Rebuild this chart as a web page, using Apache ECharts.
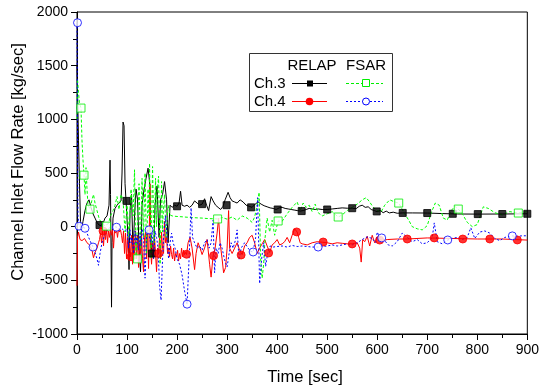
<!DOCTYPE html>
<html><head><meta charset="utf-8">
<script src="https://cdn.jsdelivr.net/npm/echarts@6/dist/echarts.min.js"></script>
<style>html,body{margin:0;padding:0;background:#fff}#c{width:542px;height:388px}</style>
</head><body><div id="c"></div>
<script>
var xTicks = [0,100,200,300,400,500,600,700,800,900];
var yTicks = [-1000,-500,0,500,1000,1500,2000];

var ch3Relap = [[0,1500],[1,1250],[2,1050],[3,800],[5,400],[7,50],[9,-30],[12,50],[16,150],[20,220],[24,250],[28,180],[32,120],[36,80],[40,40],[44,15],[48,10],[52,30],[56,80],[60,100],[64,200],[66,620],[67,300],[68,-200],[69,-750],[70,-150],[72,80],[76,170],[80,200],[84,220],[88,240],[90,500],[92,975],[94,940],[96,400],[98,240],[100,230],[102,-100],[104,-400],[106,150],[109,300],[112,-250],[115,100],[118,350],[121,250],[124,-200],[127,-420],[130,200],[134,350],[138,450],[142,545],[145,420],[148,-150],[150,-250],[153,-300],[156,200],[160,380],[164,-100],[167,250],[171,300],[175,420],[179,250],[182,-150],[186,200],[190,180],[195,200],[200,190],[204,220],[207,330],[210,200],[215,190],[220,200],[225,180],[230,200],[235,240],[240,220],[245,200],[250,210],[255,260],[259,200],[263,150],[268,280],[272,240],[277,200],[282,180],[287,160],[292,190],[296,250],[302,320],[306,270],[310,240],[315,230],[320,220],[326,250],[332,230],[338,200],[344,190],[350,180],[356,210],[362,230],[368,210],[374,195],[380,185],[386,175],[392,170],[398,160],[404,175],[410,180],[416,170],[422,165],[428,160],[434,155],[440,150],[446,145],[452,150],[458,160],[464,170],[470,165],[476,160],[482,165],[490,160],[500,160],[510,165],[520,170],[530,175],[540,172],[550,172],[558,168],[564,190],[570,200],[576,180],[582,185],[588,160],[594,150],[600,140],[606,150],[612,130],[618,145],[624,128],[632,135],[640,125],[650,128],[670,128],[700,127],[730,122],[760,118],[800,117],[850,118],[900,120]];
var ch3RelapMarks = [[45,15],[99,240],[150,-250],[200,190],[250,210],[299,200],[348,180],[401,160],[449,145],[500,160],[550,172],[599,142],[651,128],[700,127],[751,120],[801,117],[850,118],[900,120]];

var ch3Fsar = [[0,1000],[1,1370],[3,1250],[5,1150],[8,1105],[10,800],[12,620],[14,480],[16,300],[18,550],[20,350],[22,200],[26,163],[30,250],[33,300],[36,220],[40,150],[44,80],[48,40],[52,20],[56,10],[59,5],[63,30],[67,100],[72,150],[76,200],[80,280],[84,160],[88,300],[92,250],[96,-50],[100,200],[104,-100],[108,350],[112,100],[115,530],[117,-100],[118,-300],[121,-300],[124,400],[126,0],[127,-200],[130,450],[132,100],[133,-100],[136,500],[138,0],[139,-250],[142,350],[144,100],[145,590],[147,0],[148,-300],[151,560],[153,100],[154,-150],[157,450],[159,0],[160,300],[163,470],[165,0],[166,-350],[169,420],[171,-50],[172,100],[175,300],[178,-100],[182,200],[186,110],[190,100],[200,95],[210,92],[220,88],[230,85],[240,82],[250,80],[260,76],[270,74],[281,72],[290,85],[300,70],[310,90],[320,60],[330,100],[340,80],[350,40],[355,90],[360,200],[364,320],[367,-300],[370,-480],[373,-350],[376,-100],[380,80],[385,-50],[390,60],[395,-80],[402,53],[410,50],[420,120],[430,180],[440,230],[446,150],[452,220],[458,180],[464,200],[470,140],[476,210],[482,130],[490,100],[500,120],[510,140],[522,90],[530,110],[540,150],[550,180],[560,210],[570,250],[578,270],[585,230],[592,180],[600,150],[608,140],[615,200],[625,250],[635,230],[643,220],[655,120],[663,60],[670,0],[680,-20],[690,-30],[700,10],[708,130],[716,220],[724,200],[732,80],[740,62],[748,150],[755,190],[762,164],[770,120],[780,40],[790,0],[800,20],[812,185],[822,170],[835,130],[850,110],[865,140],[882,127],[900,140]];
var ch3FsarMarks = [[8,1105],[14,480],[26,163],[59,5],[121,-300],[281,72],[402,53],[522,90],[643,220],[762,164],[882,127]];

var ch4Relap = [[0,-550],[1,-100],[3,-50],[6,-120],[10,-130],[15,-110],[20,-150],[25,-170],[30,-220],[33,-290],[36,-240],[40,-200],[43,-150],[45,-120],[47,-60],[49,-150],[51,-40],[53,-180],[55,-30],[57,-120],[59,-20],[61,-150],[63,-40],[65,-100],[67,-20],[69,-80],[71,-30],[73,-200],[75,-40],[77,-60],[79,-30],[81,-100],[83,-20],[85,-50],[87,-30],[89,-80],[91,-150],[93,-40],[95,-250],[97,-60],[99,-300],[101,-100],[103,-300],[105,-150],[107,-280],[109,-80],[111,-350],[113,-100],[115,-250],[117,-40],[119,-300],[121,-80],[123,-380],[125,-150],[127,-250],[129,-60],[131,-300],[133,-420],[135,-100],[137,-50],[139,-300],[141,-30],[143,-390],[145,100],[146,400],[147,-200],[149,-350],[151,-150],[153,-300],[155,-100],[157,-250],[159,-420],[161,-200],[163,-250],[165,-100],[167,-300],[169,-50],[171,-200],[173,-250],[175,50],[177,-150],[179,-100],[181,-250],[183,-200],[185,-280],[187,-180],[189,-260],[191,-300],[193,-200],[195,-320],[197,-250],[199,-280],[201,-220],[203,-320],[205,-250],[207,-300],[209,-200],[211,-280],[213,-220],[215,-260],[217,-240],[219,-260],[222,-150],[226,-100],[230,-200],[235,-400],[238,-250],[242,-150],[246,-200],[250,-260],[255,-200],[260,-120],[265,-350],[268,-470],[272,-270],[276,-200],[280,-60],[283,80],[286,-150],[290,-300],[293,-430],[297,-380],[300,-200],[303,150],[305,-200],[310,-250],[315,-200],[320,-150],[325,-220],[330,-260],[335,-180],[340,-150],[345,-100],[350,-80],[355,-150],[360,-250],[365,-200],[370,-160],[375,-120],[380,-180],[385,-240],[390,-170],[395,-150],[400,-120],[405,-170],[410,-160],[415,-140],[420,-100],[425,-150],[430,-80],[435,-20],[440,-50],[443,-100],[446,-150],[450,-160],[460,-170],[470,-150],[480,-140],[490,-145],[500,-150],[510,-160],[520,-150],[530,-155],[540,-160],[550,-160],[560,-150],[565,-200],[568,-330],[571,-120],[575,-140],[580,-90],[585,-180],[590,-80],[595,-150],[600,-100],[610,-130],[620,-120],[640,-115],[660,-115],[700,-105],[750,-110],[800,-115],[850,-115],[900,-125]];
var ch4RelapMarks = [[52,-40],[108,-280],[163,-250],[219,-257],[273,-270],[328,-264],[383,-245],[439,-49],[492,-143],[550,-161],[605,-125],[660,-115],[714,-105],[771,-115],[825,-115],[880,-124]];

var ch4Fsar = [[0,1900],[1,800],[2,100],[4,5],[6,5],[10,0],[16,-15],[20,-60],[25,-120],[30,-170],[32,-190],[36,-240],[40,-300],[43,-360],[46,-250],[50,-150],[55,-80],[60,-40],[65,-10],[70,-20],[75,0],[79,-5],[85,-30],[90,-20],[95,-40],[100,-20],[103,-200],[106,-30],[108,-150],[110,-100],[113,-250],[116,-40],[118,-150],[120,-80],[123,-220],[126,-60],[128,-180],[130,-20],[133,-100],[136,-480],[139,-80],[142,-30],[144,-30],[147,-150],[150,-60],[153,-300],[156,-40],[159,-100],[162,-200],[165,-550],[168,-685],[171,-300],[174,-20],[177,100],[180,-100],[183,-300],[186,-150],[189,-60],[192,-150],[196,-200],[200,-300],[205,-350],[210,-450],[215,-600],[220,-722],[224,-300],[228,175],[231,-100],[235,-150],[240,-200],[245,-180],[250,-220],[255,-150],[260,-120],[264,-200],[268,-150],[272,60],[275,-430],[278,-200],[282,-250],[286,-150],[290,-200],[295,-310],[300,-375],[304,-250],[308,-150],[312,-200],[317,-120],[320,-30],[324,-310],[328,-200],[335,-150],[342,-200],[347,-230],[352,-236],[357,-100],[361,270],[365,-530],[369,-300],[373,-150],[377,-370],[381,-250],[386,-180],[392,-190],[400,-185],[410,-180],[420,-190],[430,-175],[440,-185],[450,-180],[460,-185],[470,-190],[482,-190],[490,-185],[500,-180],[510,-170],[520,-180],[530,-170],[540,-160],[550,-170],[560,-150],[570,-120],[580,-95],[590,-110],[597,-150],[600,-50],[605,-100],[609,-105],[615,-130],[622,-170],[630,-180],[640,-140],[650,-60],[660,-100],[670,-140],[680,-120],[690,-160],[700,-150],[710,-100],[714,35],[720,-140],[730,-160],[741,-124],[750,-110],[760,-100],[770,-120],[780,-100],[787,-10],[795,-110],[805,-50],[815,-40],[825,-60],[835,-110],[845,-130],[855,-100],[870,-86],[880,-90],[890,-85],[900,-85]];
var ch4FsarMarks = [[1,1900],[4,5],[16,-15],[32,-190],[79,-5],[144,-30],[220,-722],[352,-236],[482,-190],[609,-105],[741,-124],[870,-86]];

var FONT = '"Liberation Sans", Arial, sans-serif';
var chart = echarts.init(document.getElementById('c'), null, {renderer:'canvas'});

function lineSeries(data, color, type, z){
  return {type:'line', data:data, showSymbol:false, symbol:'none', animation:false, z:z,
    lineStyle:{color:color, width:1, type:type}, clip:true};
}
function markSeries(data, symbol, color, fill, size, z){
  return {type:'scatter', data:data, symbol:symbol, symbolSize:size, animation:false, z:z,
    itemStyle:{color:fill, borderColor:color, borderWidth:1}};
}

var option = {
  backgroundColor:'#fff',
  animation:false,
  grid:{left:77, right:10, top:12, bottom:54, show:true, borderColor:'#000', borderWidth:1, backgroundColor:'transparent'},
  xAxis:{type:'value', min:0, max:900, interval:100,
    axisLine:{show:true, onZero:false, lineStyle:{color:'#000', width:1}},
    axisTick:{show:true, length:6, lineStyle:{color:'#000'}},
    minorTick:{show:true, splitNumber:2, length:4, lineStyle:{color:'#000'}},
    splitLine:{show:false},
    axisLabel:{color:'#000', fontSize:14, fontFamily:FONT, margin:9,
      formatter:function(v){return xTicks.indexOf(v)>=0? String(v):'';}}
  },
  yAxis:{type:'value', min:-1000, max:2000, interval:500,
    axisLine:{show:true, onZero:false, lineStyle:{color:'#000', width:1}},
    axisTick:{show:true, length:6, lineStyle:{color:'#000'}},
    minorTick:{show:true, splitNumber:2, length:4, lineStyle:{color:'#000'}},
    splitLine:{show:false},
    axisLabel:{color:'#000', fontSize:14, fontFamily:FONT, margin:9,
      formatter:function(v){return yTicks.indexOf(v)>=0? String(v):'';}}
  },
  series:[
    lineSeries(ch3Relap, '#000000', 'solid', 2),
    lineSeries(ch4Relap, '#ff0000', 'solid', 3),
    lineSeries(ch3Fsar, '#00ff00', [3,2], 4),
    lineSeries(ch4Fsar, '#0000ff', [2,2], 5),
    markSeries(ch3RelapMarks, 'rect', '#000', '#000', 7, 6),
    markSeries(ch4RelapMarks, 'circle', '#ff0000', '#ff0000', 8, 6),
    markSeries(ch3FsarMarks, 'rect', '#00ee00', '#fff', 8, 7),
    markSeries(ch4FsarMarks, 'circle', '#0000ff', '#fff', 8, 7)
  ],
  graphic:[
    {type:'text', x:305, y:377, style:{text:'Time [sec]', font:'16.5px '+FONT, fill:'#000', textAlign:'center', textVerticalAlign:'middle'}},
    {type:'text', x:18, y:162, rotation:Math.PI/2, style:{text:'Channel Inlet Flow Rate [kg/sec]', font:'16.5px '+FONT, fill:'#000', textAlign:'center', textVerticalAlign:'middle'}},
    {type:'rect', x:249.5, y:53.5, shape:{width:143, height:58}, style:{fill:'#fff', stroke:'#333', lineWidth:1}, z:10},
    {type:'text', x:312, y:66, z:11, style:{text:'RELAP', font:'15px '+FONT, fill:'#000', textAlign:'center', textVerticalAlign:'middle'}},
    {type:'text', x:366, y:66, z:11, style:{text:'FSAR', font:'15px '+FONT, fill:'#000', textAlign:'center', textVerticalAlign:'middle'}},
    {type:'text', x:254, y:84, z:11, style:{text:'Ch.3', font:'15px '+FONT, fill:'#000', textAlign:'left', textVerticalAlign:'middle'}},
    {type:'text', x:254, y:102, z:11, style:{text:'Ch.4', font:'15px '+FONT, fill:'#000', textAlign:'left', textVerticalAlign:'middle'}},
    {type:'line', z:11, shape:{x1:292, y1:83.5, x2:327, y2:83.5}, style:{stroke:'#000', lineWidth:1}},
    {type:'rect', z:12, shape:{x:307, y:80.5, width:6, height:6}, style:{fill:'#000'}},
    {type:'line', z:11, shape:{x1:346, y1:83.5, x2:383, y2:83.5}, style:{stroke:'#00ee00', lineWidth:1, lineDash:[3,2]}},
    {type:'rect', z:12, shape:{x:362.5, y:79.5, width:7, height:7}, style:{fill:'#fff', stroke:'#00ee00', lineWidth:1}},
    {type:'line', z:11, shape:{x1:292, y1:101.5, x2:327, y2:101.5}, style:{stroke:'#ff0000', lineWidth:1}},
    {type:'circle', z:12, shape:{cx:309.5, cy:101.5, r:3.8}, style:{fill:'#ff0000'}},
    {type:'line', z:11, shape:{x1:346, y1:101.5, x2:383, y2:101.5}, style:{stroke:'#0000ff', lineWidth:1, lineDash:[2,2]}},
    {type:'circle', z:12, shape:{cx:366, cy:101.5, r:3.5}, style:{fill:'#fff', stroke:'#0000ff', lineWidth:1}}
  ]
};
chart.setOption(option);
</script></body></html>
